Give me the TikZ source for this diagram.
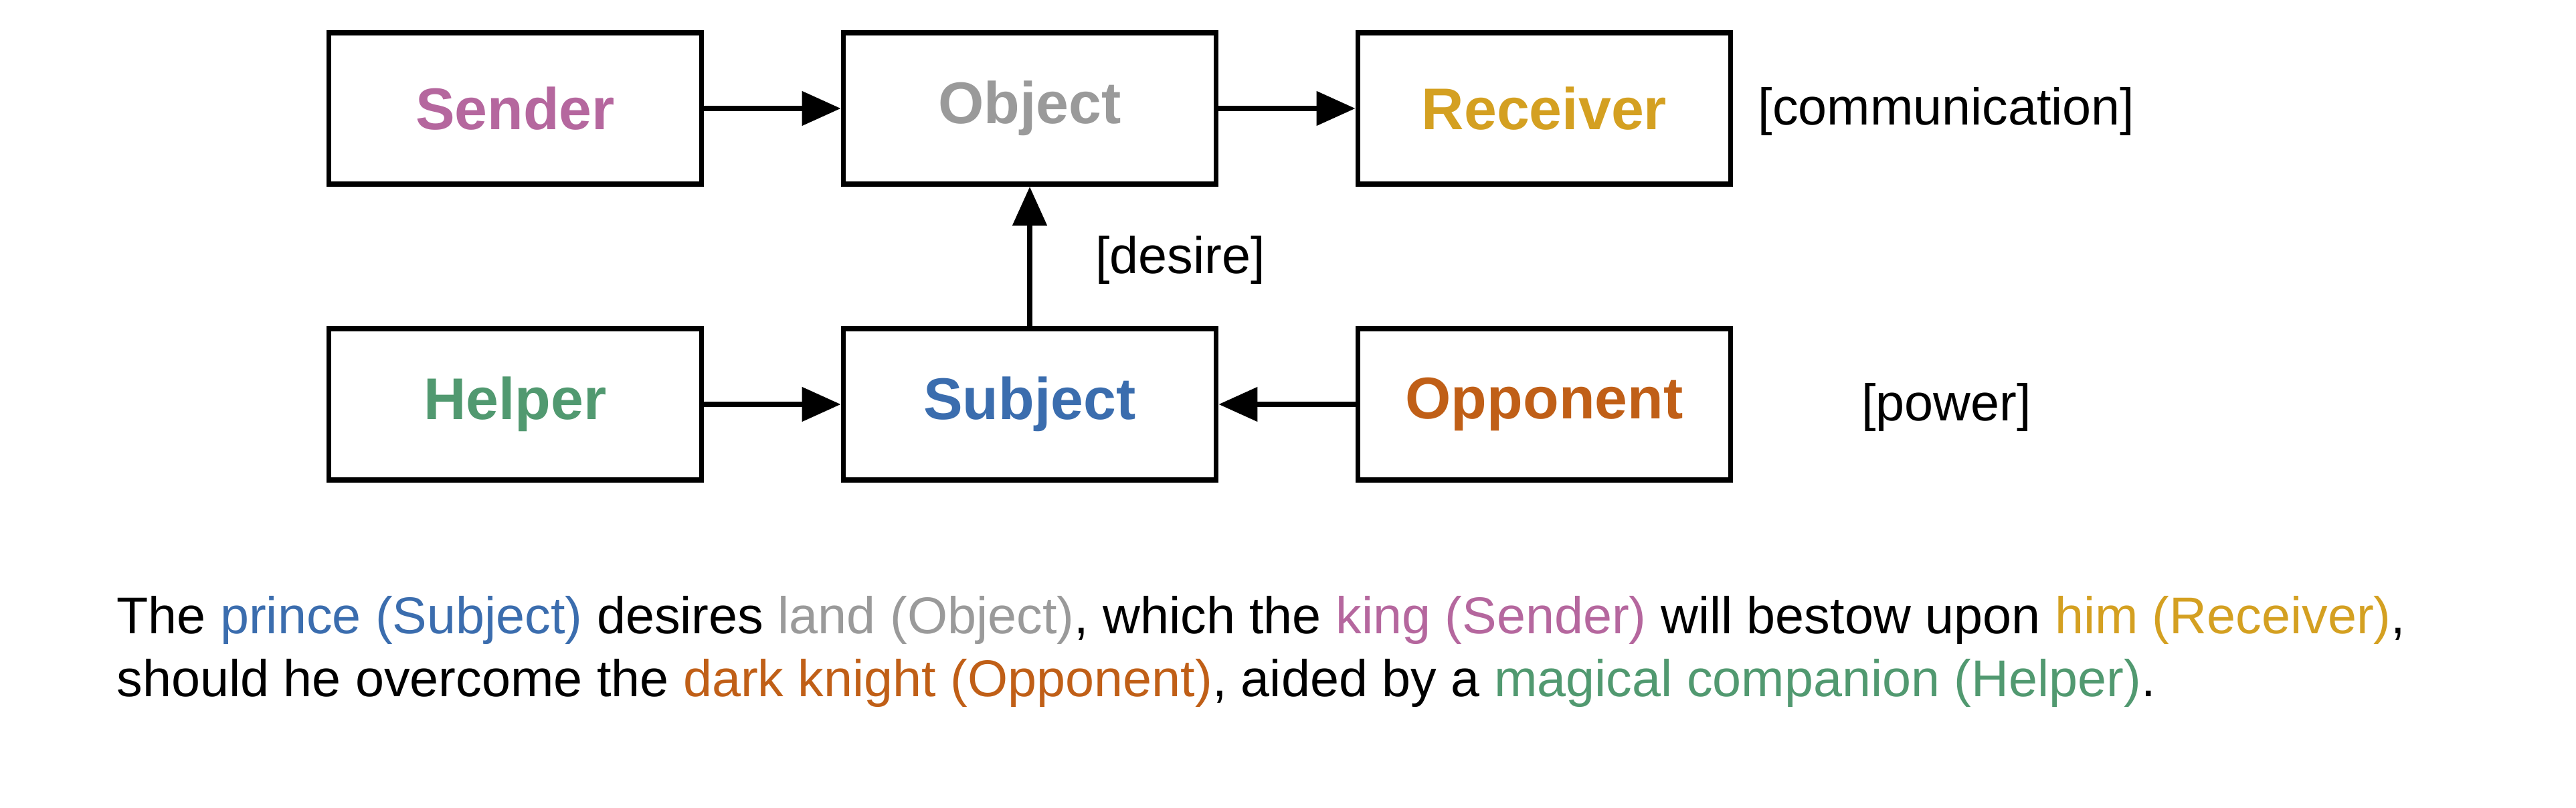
\documentclass[tikz,border=0pt]{standalone}
\usepackage{fontspec}
\setmainfont{Liberation Sans}
\usetikzlibrary{arrows.meta,positioning}
\definecolor{csender}{HTML}{B5679E}
\definecolor{cobject}{HTML}{9A9A9A}
\definecolor{creceiver}{HTML}{D4A021}
\definecolor{chelper}{HTML}{519970}
\definecolor{csubject}{HTML}{3B6DAE}
\definecolor{copponent}{HTML}{C05F17}
\begin{document}
\begin{tikzpicture}[
        actant/.style={draw, line width=2.2pt, minimum width=5.57cm, minimum height=2.26cm, font=\fontsize{25}{29}\selectfont\bfseries},
        link/.style={line width=2.2pt, -{Triangle[length=0.58cm, width=0.5cm]}},
        axis/.style={font=\fontsize{22}{26}\selectfont}
    ]
        \useasboundingbox (0,0) rectangle (38.5,12.07);
        % Actants
        \node[actant, text=csender] (sender) at (7.70,10.45) {Sender};
        \node[actant, text=cobject] (object) at (15.39,10.45) {Object};
        \node[actant, text=creceiver] (receiver) at (23.08,10.45) {Receiver};
        \node[actant, text=chelper] (helper) at (7.70,6.03) {Helper};
        \node[actant, text=csubject] (subject) at (15.39,6.03) {Subject};
        \node[actant, text=copponent] (opponent) at (23.08,6.03) {Opponent};

        % Axes
        \node[axis] (comm) at (29.09,10.40) {[communication]};
        \node[axis, anchor=west] (desire) at (16.25,8.18) {[desire]};
        \node[axis] (power) at (29.09,5.98) {[power]};

        % Links
        \draw[link] (sender) -- (object);
        \draw[link] (object) -- (receiver);
        \draw[link] (subject) -- (object);
        \draw[link] (helper) -- (subject);
        \draw[link] (opponent) -- (subject);

        % Caption
        \node[axis, anchor=west] (line1) at (1.62,2.80) {The \textcolor{csubject}{prince (Subject)} desires \textcolor{cobject}{land (Object)}, which the \textcolor{csender}{king (Sender)} will bestow upon \textcolor{creceiver}{him (Receiver)},};
        \node[axis, anchor=west] (line2) at (1.62,1.86) {should he overcome the \textcolor{copponent}{dark knight (Opponent)}, aided by a \textcolor{chelper}{magical companion (Helper)}.};
    \end{tikzpicture}
\end{document}
